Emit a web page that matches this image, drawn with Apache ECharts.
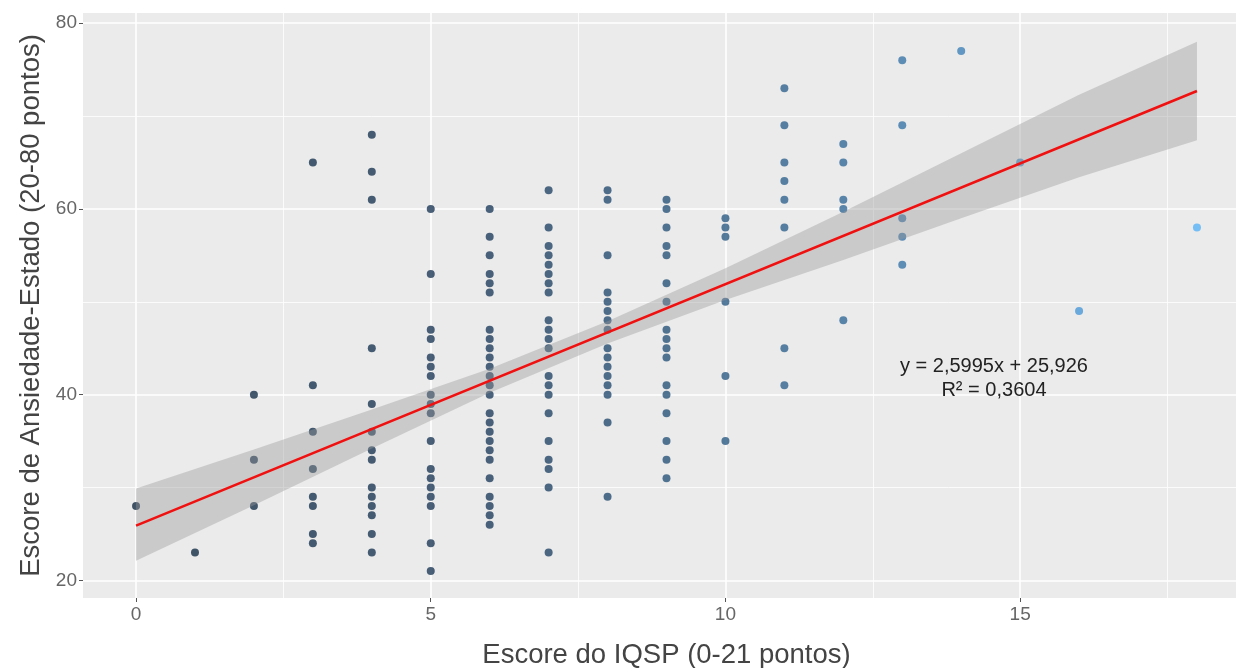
<!DOCTYPE html>
<html>
<head>
<meta charset="utf-8">
<script src="https://cdn.jsdelivr.net/npm/echarts@6/dist/echarts.min.js"></script>
<style>
  html, body { margin: 0; padding: 0; background: #fff; }
  #chart { width: 1236px; height: 668px; }
</style>
</head>
<body>
<div id="chart"></div>
<script>
// escore do IQSP (eixo x) e escores de ansiedade observados em cada coluna
var iqsp = [0, 1, 2, 3, 4, 5, 6, 7, 8, 9, 10, 11, 12, 13, 14, 15, 16, 17, 18];
var ansiedade = [
    [28],
    [23],
    [40, 33, 28],
    [65, 41, 36, 32, 29, 28, 25, 24],
    [68, 64, 61, 45, 39, 36, 34, 33, 30, 29, 28, 27, 25, 23],
    [60, 53, 47, 46, 44, 43, 42, 40, 39, 38, 35, 32, 31, 30, 29, 28, 24, 21],
    [60, 57, 55, 53, 52, 51, 47, 46, 45, 44, 43, 42, 41, 40, 38, 37, 36, 35, 34, 33, 31, 29, 28, 27, 26],
    [62, 58, 56, 55, 54, 53, 52, 51, 48, 47, 46, 45, 42, 41, 40, 38, 35, 33, 32, 30, 23],
    [62, 61, 55, 51, 50, 49, 48, 47, 45, 44, 43, 42, 41, 40, 37, 29],
    [61, 60, 58, 56, 55, 52, 50, 47, 46, 45, 44, 41, 40, 38, 35, 33, 31],
    [59, 58, 57, 50, 42, 35],
    [73, 69, 65, 63, 61, 58, 45, 41],
    [67, 65, 61, 60, 48],
    [76, 69, 59, 57, 54],
    [77],
    [65],
    [49],
    [],
    [58]
];

// reta de regressão e faixa de confiança
var retaX = [0, 18];
var retaY = [25.9, 72.7];
var faixaX = [0, 2, 4, 6, 8, 10, 12, 14, 16, 18];
var faixaInf = [22.1, 28.1, 34.2, 40.2, 45.5, 50.2, 54.5, 59.0, 63.4, 67.4];
var faixaSup = [29.9, 34.1, 38.4, 42.8, 47.9, 53.6, 59.7, 66.0, 72.3, 78.0];

// marcas dos eixos
var xTicks = [0, 5, 10, 15];
var xMinor = [2.5, 7.5, 12.5, 17.5];
var yTicks = [20, 40, 60, 80];
var yMinor = [30, 50, 70];

// cores dos pontos (do escuro ao azul claro)
var cores = ['#132b43', '#1f3d5c', '#336a98', '#56b1f7'];

var pontos = [];
for (var i = 0; i < iqsp.length; i++) {
    for (var j = 0; j < ansiedade[i].length; j++) {
        pontos.push([iqsp[i], ansiedade[i][j]]);
    }
}

var fonte = '"Liberation Sans", Arial, sans-serif';
var xMin = -0.9, xMax = 18.9, yMin = 18.1, yMax = 81.1;

function eixoX(ticks, principal) {
    return {
        type: 'value', min: xMin, max: xMax, position: 'bottom',
        axisLine: { show: false, onZero: false },
        axisTick: principal ? { show: true, length: 4, customValues: ticks, lineStyle: { color: '#555', width: 1 } }
                            : { show: false, customValues: ticks },
        axisLabel: principal ? { show: true, customValues: ticks, margin: 7, color: '#666', fontSize: 19, fontFamily: fonte }
                             : { show: false },
        splitLine: { show: true, lineStyle: { color: '#fff', width: principal ? 1.6 : 0.8 } },
        name: principal ? 'Escore do IQSP (0-21 pontos)' : '',
        nameLocation: 'middle', nameGap: 43,
        nameTextStyle: { color: '#444', fontSize: 27.5, fontFamily: fonte }
    };
}
function eixoY(ticks, principal) {
    return {
        type: 'value', min: yMin, max: yMax, position: 'left',
        axisLine: { show: false, onZero: false },
        axisTick: principal ? { show: true, length: 4, customValues: ticks, lineStyle: { color: '#555', width: 1 } }
                            : { show: false, customValues: ticks },
        axisLabel: principal ? { show: true, customValues: ticks, margin: 6, color: '#666', fontSize: 19, fontFamily: fonte }
                             : { show: false },
        splitLine: { show: true, lineStyle: { color: '#fff', width: principal ? 1.6 : 0.8 } },
        name: principal ? 'Escore de Ansiedade-Estado (20-80 pontos)' : '',
        nameLocation: 'middle', nameGap: 38,
        nameTextStyle: { color: '#444', fontSize: 27.5, fontFamily: fonte }
    };
}

var chart = echarts.init(document.getElementById('chart'));
var option = {
    animation: false,
    backgroundColor: '#fff',
    grid: {
        left: 83, top: 13, right: -14, bottom: 70,
        containLabel: false, outerBoundsMode: 'none',
        show: true, backgroundColor: '#ebebeb', borderWidth: 0
    },
    xAxis: [eixoX(xMinor, false), eixoX(xTicks, true)],
    yAxis: [eixoY(yMinor, false), eixoY(yTicks, true)],
    visualMap: {
        show: false, type: 'continuous', seriesIndex: 0, dimension: 0,
        min: 0, max: 18, inRange: { color: cores }
    },
    graphic: [{
        type: 'group', left: 900, top: 356, z: 100,
        children: [
            { type: 'text', x: 110, y: 0, z: 100, style: { text: 'y = 2,5995x + 25,926', align: 'center', font: '20px ' + fonte, fill: '#222' } },
            { type: 'text', x: 110, y: 24, z: 100, style: { text: 'R² = 0,3604', align: 'center', font: '20px ' + fonte, fill: '#222' } }
        ]
    }],
    series: [{
        type: 'scatter',
        xAxisIndex: 1, yAxisIndex: 1,
        symbolSize: 8,
        data: pontos,
        z: 2
    }, {
        type: 'custom',
        xAxisIndex: 1, yAxisIndex: 1,
        data: [[faixaX[0], faixaInf[0]]],
        z: 3,
        renderItem: function(params, api) {
            var pts = [];
            for (var k = 0; k < faixaX.length; k++) pts.push(api.coord([faixaX[k], faixaSup[k]]));
            for (var k = faixaX.length - 1; k >= 0; k--) pts.push(api.coord([faixaX[k], faixaInf[k]]));
            return { type: 'polygon', shape: { points: pts }, style: { fill: 'rgba(153,153,153,0.4)' } };
        }
    }, {
        type: 'line',
        xAxisIndex: 1, yAxisIndex: 1,
        data: retaX.map(function(v, k) { return [v, retaY[k]]; }),
        showSymbol: false,
        lineStyle: { color: '#f01010', width: 2.5 },
        z: 4
    }]
};
chart.setOption(option);
</script>
</body>
</html>
